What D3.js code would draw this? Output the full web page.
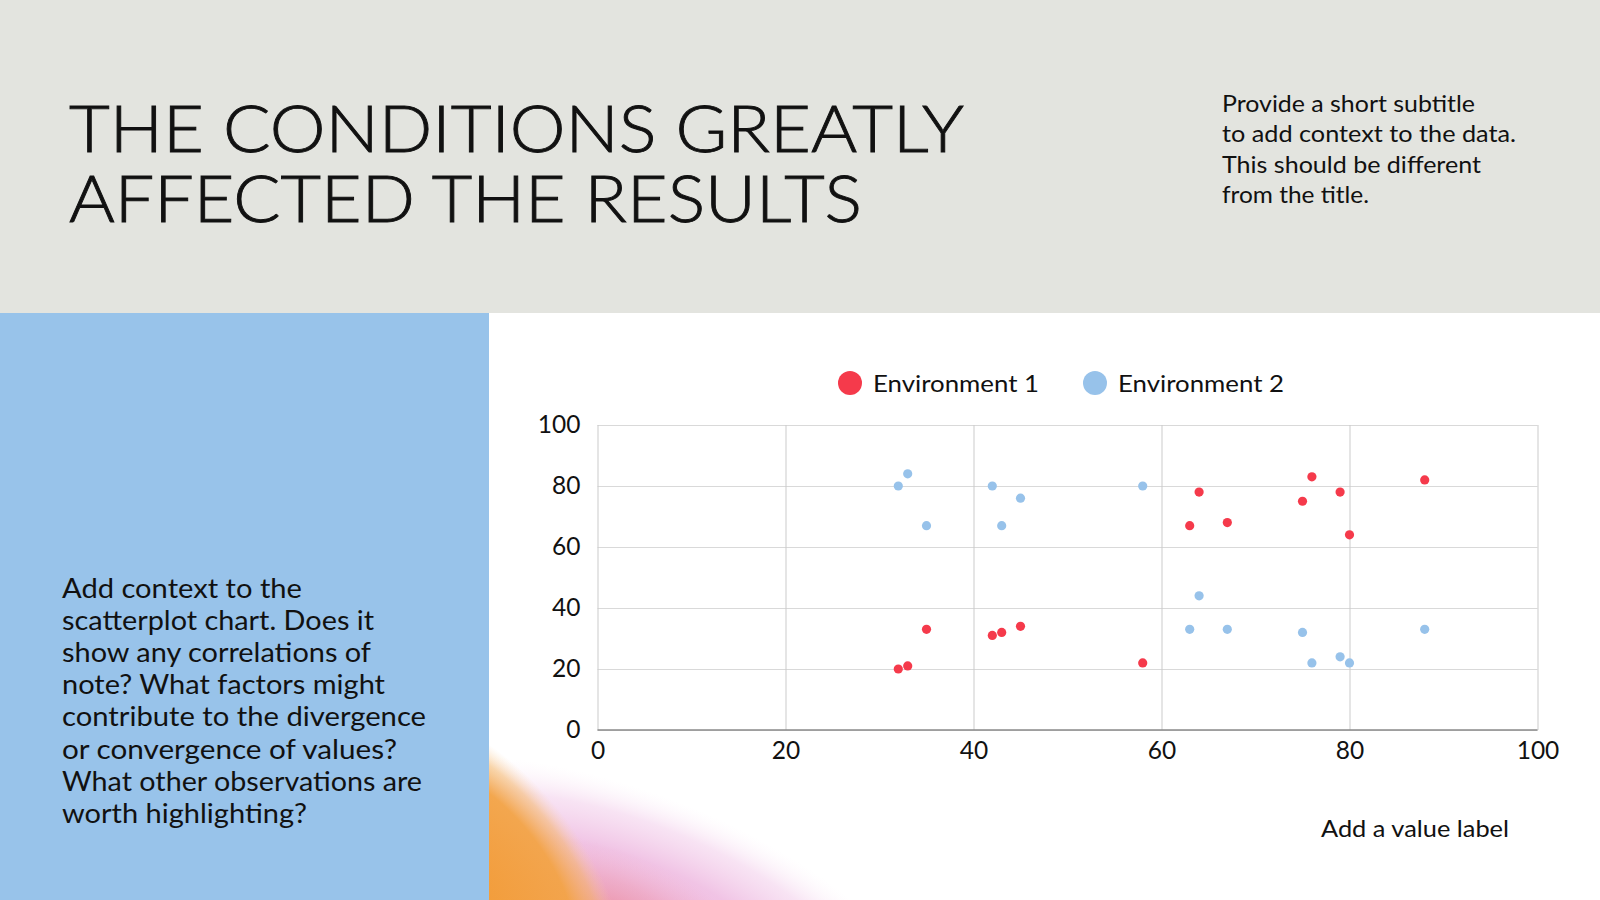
<!DOCTYPE html>
<html lang="en">
<head>
  <meta charset="UTF-8">
  <title>The conditions greatly affected the results</title>
  <style>
    html, body { margin: 0; padding: 0; background: #fff; }
    svg { display: block; }
    text { font-family: Lato, 'Noto Sans', sans-serif; fill: #111; }
  </style>
</head>
<body>
  <svg id="svg" width="1600" height="900"></svg>
  <script src="https://d3js.org/d3.v7.min.js"></script>
  <script>
    // data
    const seriesNames = ['Environment 1', 'Environment 2']
    const env1X = [32, 33, 35, 42, 43, 45, 58, 63, 64, 67, 75, 76, 79, 80, 88]
    const env1Y = [20, 21, 33, 31, 32, 34, 22, 67, 78, 68, 75, 83, 78, 64, 82]
    const env2X = [32, 33, 35, 42, 43, 45, 58, 63, 64, 67, 75, 76, 79, 80, 88]
    const env2Y = [80, 84, 67, 80, 67, 76, 80, 33, 44, 33, 32, 22, 24, 22, 33]
    const xTicks = [0, 20, 40, 60, 80, 100]
    const yTicks = [0, 20, 40, 60, 80, 100]

    const titleLines = ['THE CONDITIONS GREATLY', 'AFFECTED THE RESULTS']
    const subtitleLines = ['Provide a short subtitle', 'to add context to the data.', 'This should be different', 'from the title.']
    const noteLines = ['Add context to the', 'scatterplot chart. Does it', 'show any correlations of',
      'note? What factors might', 'contribute to the divergence', 'or convergence of values?',
      'What other observations are', 'worth highlighting?']

    // line widths measured on the reference (the original font is wider than Lato)
    const titleWidths = [895, 793]
    const subtitleWidths = [253, 294, 259, 147]
    const noteWidths = [240, 312, 309, 323, 364, 335, 360, 245]

    const colors = ['#f53a4b', '#97c2ea']

    const svg = d3.select('#svg')
    const defs = svg.append('defs')

    // background blocks
    svg.append('rect').attr('width', 1600).attr('height', 900).attr('fill', '#ffffff')
    svg.append('rect').attr('width', 1600).attr('height', 313).attr('fill', '#e3e4df')
    svg.append('rect').attr('y', 313).attr('width', 489).attr('height', 587).attr('fill', '#98c3ea')

    // soft colour blob in the bottom corner
    defs.append('clipPath').attr('id', 'whiteArea')
      .append('rect').attr('x', 489).attr('y', 313).attr('width', 1111).attr('height', 587)

    function radial(id, stops) {
      const g = defs.append('radialGradient').attr('id', id)
      stops.forEach(s => g.append('stop').attr('offset', s[0]).attr('stop-color', s[1]).attr('stop-opacity', s[2]))
    }
    radial('pinkGrad', [[0, '#eeaed6', 1], [0.55, '#efbde2', 0.9], [0.8, '#f3d1ec', 0.6], [1, '#fbeef8', 0]])
    radial('salmonGrad', [[0, '#ea8592', 0.8], [0.55, '#ec96a8', 0.4], [1, '#f0b0c6', 0]])
    radial('orangeGrad', [[0, '#f29a35', 1], [0.72, '#f3a446', 0.95], [0.88, '#f5b868', 0.55], [1, '#f8d2a8', 0]])

    const blob = svg.append('g').attr('clip-path', 'url(#whiteArea)')
    blob.append('ellipse')
      .attr('transform', 'translate(620,940) rotate(21)')
      .attr('rx', 340).attr('ry', 150).attr('fill', 'url(#pinkGrad)')
    blob.append('ellipse')
      .attr('transform', 'translate(610,920) rotate(22)')
      .attr('rx', 160).attr('ry', 70).attr('fill', 'url(#salmonGrad)')
    blob.append('ellipse')
      .attr('transform', 'translate(452,892) rotate(50)')
      .attr('rx', 220).attr('ry', 135).attr('fill', 'url(#orangeGrad)')

    // title, one text element with a tspan per line
    svg.append('text')
      .attr('class', 'title')
      .attr('font-size', 66)
      .attr('font-weight', 300)
      .attr('stroke', '#111')
      .attr('stroke-width', 0.9)
      .selectAll('tspan')
      .data(titleLines)
      .join('tspan')
      .attr('x', 69)
      .attr('y', (d, i) => 152 + i * 70)
      .attr('textLength', (d, i) => titleWidths[i])
      .attr('lengthAdjust', 'spacingAndGlyphs')
      .text(d => d)

    // subtitle
    svg.selectAll('.subtitle')
      .data(subtitleLines)
      .join('text')
      .attr('class', 'subtitle')
      .attr('x', 1222)
      .attr('y', (d, i) => 111.5 + i * 30.5)
      .attr('font-size', 23)
      .attr('textLength', (d, i) => subtitleWidths[i])
      .attr('lengthAdjust', 'spacingAndGlyphs')
      .text(d => d)

    // left panel note
    svg.selectAll('.note')
      .data(noteLines)
      .join('text')
      .attr('class', 'note')
      .attr('x', 62)
      .attr('y', (d, i) => 598 + i * 32.1)
      .attr('font-size', 27)
      .attr('textLength', (d, i) => noteWidths[i])
      .attr('lengthAdjust', 'spacingAndGlyphs')
      .text(d => d)

    // value label
    svg.append('text')
      .attr('x', 1321)
      .attr('y', 837)
      .attr('font-size', 23)
      .attr('textLength', 188)
      .attr('lengthAdjust', 'spacingAndGlyphs')
      .text('Add a value label')

    // scatter chart
    const x = d3.scaleLinear().domain([0, 100]).range([597.5, 1537.5])
    const y = d3.scaleLinear().domain([0, 100]).range([730, 425])

    const gy = svg.append('g')
      .attr('transform', `translate(${x(0)},0)`)
      .call(d3.axisLeft(y).tickValues(yTicks).tickSize(-(x(100) - x(0))).tickPadding(17))
    gy.select('.domain').remove()
    gy.selectAll('.tick line').attr('stroke', '#d9d9d9').attr('stroke-width', 1)
    gy.selectAll('.tick text').attr('font-size', 24.5).attr('font-family', 'Lato, sans-serif').attr('fill', '#111')

    const gx = svg.append('g')
      .attr('transform', `translate(0,${y(0)})`)
      .call(d3.axisBottom(x).tickValues(xTicks).tickSize(-(y(0) - y(100))).tickPadding(12))
    gx.select('.domain').remove()
    gx.selectAll('.tick line').attr('stroke', '#cbcbcb').attr('stroke-width', 1)
    gx.selectAll('.tick text').attr('font-size', 24.5).attr('font-family', 'Lato, sans-serif').attr('fill', '#111')

    // axis baseline
    svg.append('line')
      .attr('x1', x(0)).attr('x2', x(100))
      .attr('y1', y(0)).attr('y2', y(0))
      .attr('stroke', '#8a8a8a').attr('stroke-width', 1.5)

    const points = [
      env1X.map((v, i) => ({ x: v, y: env1Y[i], s: 0 })),
      env2X.map((v, i) => ({ x: v, y: env2Y[i], s: 1 }))
    ]

    svg.append('g')
      .selectAll('g')
      .data(points)
      .join('g')
      .selectAll('circle')
      .data(d => d)
      .join('circle')
      .attr('cx', d => x(d.x))
      .attr('cy', d => y(d.y))
      .attr('r', 4.6)
      .attr('fill', d => colors[d.s])

    // legend
    const legendX = [850, 1095]
    const legend = svg.selectAll('.legend')
      .data(seriesNames)
      .join('g')
      .attr('class', 'legend')
      .attr('transform', (d, i) => `translate(${legendX[i]},383)`)
    legend.append('circle').attr('r', 12).attr('fill', (d, i) => colors[i])
    legend.append('text')
      .attr('x', 23)
      .attr('y', 8.5)
      .attr('font-size', 23)
      .attr('textLength', 166)
      .attr('lengthAdjust', 'spacingAndGlyphs')
      .text(d => d)
  </script>
</body>
</html>
